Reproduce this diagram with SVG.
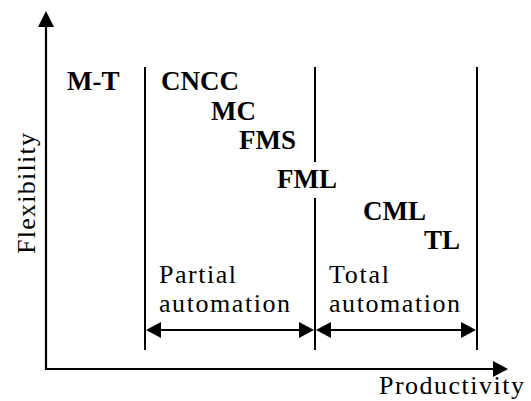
<svg xmlns="http://www.w3.org/2000/svg" width="531" height="401" viewBox="0 0 531 401">
  <style>
    .ax { stroke: #000; stroke-width: 2.2; fill: none; }
    .div { stroke: #000; stroke-width: 2; fill: none; }
    .head { fill: #000; stroke: none; }
    .tag { font-family: 'Liberation Serif', 'Times New Roman', serif; font-weight: bold; font-size: 27px; fill: #000; }
    .lab { font-family: 'Liberation Serif', 'Times New Roman', serif; font-size: 26px; fill: #000; }
  </style>
  <rect width="531" height="401" fill="#fff"/>

  <!-- axes -->
  <g id="axes">
    <line class="ax" x1="46" y1="370" x2="46" y2="26"/>
    <polygon class="head" points="46,11 38,27 54,27"/>
    <line class="ax" x1="45" y1="369" x2="494" y2="369"/>
    <polygon class="head" points="508,369 493,361 493,377"/>
    <text class="lab" transform="translate(35,254) rotate(-90)" textLength="121" lengthAdjust="spacing">Flexibility</text>
    <text class="lab" x="379" y="394" textLength="145" lengthAdjust="spacing">Productivity</text>
  </g>

  <!-- region dividers -->
  <g id="dividers">
    <line class="div" x1="145" y1="67" x2="145" y2="350"/>
    <line class="div" x1="315" y1="67" x2="315" y2="162"/>
    <line class="div" x1="315" y1="198" x2="315" y2="350"/>
    <line class="div" x1="477" y1="67" x2="477" y2="350"/>
  </g>

  <!-- system labels -->
  <g id="mt"><text class="tag" x="67" y="90">M-T</text></g>
  <g id="cncc"><text class="tag" x="161" y="90">CNCC</text></g>
  <g id="mc"><text class="tag" x="211" y="120">MC</text></g>
  <g id="fms"><text class="tag" x="239" y="149">FMS</text></g>
  <g id="fml"><text class="tag" x="277" y="188">FML</text></g>
  <g id="cml"><text class="tag" x="363" y="220">CML</text></g>
  <g id="tl"><text class="tag" x="424" y="249">TL</text></g>

  <!-- automation ranges -->
  <g id="partial">
    <text class="lab" x="159" y="283" textLength="77" lengthAdjust="spacing">Partial</text>
    <text class="lab" x="159" y="312" textLength="131" lengthAdjust="spacing">automation</text>
  </g>
  <g id="total">
    <text class="lab" x="329" y="283" textLength="60" lengthAdjust="spacing">Total</text>
    <text class="lab" x="329" y="312" textLength="131" lengthAdjust="spacing">automation</text>
  </g>

  <g id="connectors">
    <line class="div" x1="158" y1="330" x2="302" y2="330"/>
    <polygon class="head" points="146,330 161,322 161,338"/>
    <polygon class="head" points="314,330 299,322 299,338"/>
    <line class="div" x1="329" y1="330" x2="464" y2="330"/>
    <polygon class="head" points="316,330 331,322 331,338"/>
    <polygon class="head" points="476,330 461,322 461,338"/>
  </g>
</svg>
